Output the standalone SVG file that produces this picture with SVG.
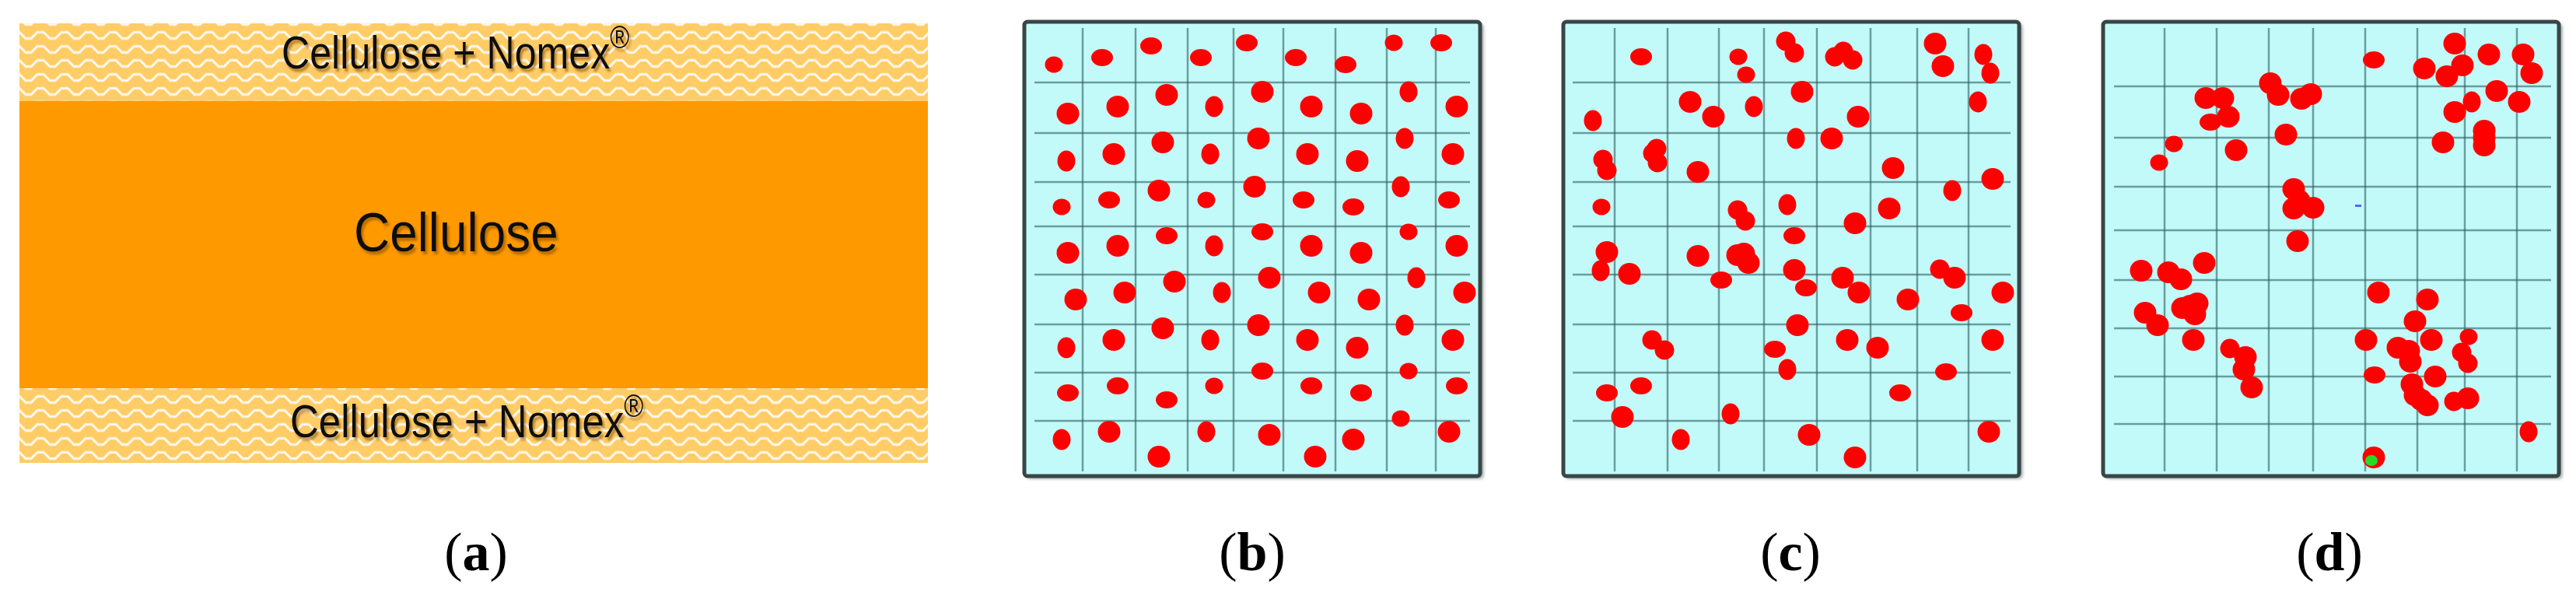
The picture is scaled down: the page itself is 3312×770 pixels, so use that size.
<svg xmlns="http://www.w3.org/2000/svg" xmlns:xlink="http://www.w3.org/1999/xlink" width="3312" height="770" viewBox="0 0 3312 770">
<style>
.band{fill:url(#wave)}
.lbl{font-family:"Liberation Sans",Arial,sans-serif;fill:#111;filter:url(#tshadow)}
.cap{font-family:"Liberation Serif","Times New Roman",serif;font-size:70px;fill:#000;text-anchor:middle}
.frame{fill:#C2FAFA;stroke:#3a4646;stroke-width:5}
.fshadow{fill:#8a9494;filter:url(#blur)}
.grid line{stroke:#2f5f5f;stroke-width:2.5;stroke-opacity:0.6}
</style>
<defs>
<pattern id="wave" patternUnits="userSpaceOnUse" x="25" y="19.5" width="31" height="18">
<rect width="31" height="18" fill="#FFCC66"/>
<path d="M-1,4 L0,4 L8,12 L15,12 L23,4 L32,4" fill="none" stroke="#ffffff" stroke-width="3" stroke-opacity="0.9"/>
</pattern>
<filter id="tshadow" x="-5%" y="-20%" width="110%" height="150%">
<feDropShadow dx="3" dy="4" stdDeviation="1.5" flood-color="#7a4a00" flood-opacity="0.55"/>
</filter>
<filter id="blur"><feGaussianBlur stdDeviation="2"/></filter>
<ellipse id="B" rx="14.5" ry="14" fill="#FF0000"/>
<ellipse id="M" rx="12.5" ry="12.5" fill="#FF0000"/>
<ellipse id="E" rx="14" ry="11" fill="#FF0000"/>
<ellipse id="S" rx="11.5" ry="10.5" fill="#FF0000"/>
<ellipse id="V" rx="11.5" ry="13.5" fill="#FF0000"/>
</defs>

<g id="panel-a">
<rect class="band" x="25" y="30" width="1168" height="100"/>
<rect x="25" y="130" width="1168" height="369" fill="#FF9900"/>
<rect class="band" x="25" y="499" width="1168" height="96"/>
<text class="lbl" font-size="59" transform="translate(362,88) scale(0.85,1)">Cellulose + Nomex<tspan font-size="40" dy="-26">®</tspan></text>
<text class="lbl" font-size="71" transform="translate(455,323) scale(0.9,1)">Cellulose</text>
<text class="lbl" font-size="60" transform="translate(373,562) scale(0.85,1)">Cellulose + Nomex<tspan font-size="40" dy="-26">®</tspan></text>
<text class="cap" x="612" y="733">(<tspan font-weight="bold">a</tspan>)</text>
</g>

<g id="panel-b">
<rect class="fshadow" x="1320" y="31" width="587" height="584" rx="4"/>
<rect class="frame" x="1317" y="28" width="586" height="584" rx="4"/>
<g class="grid">
<line x1="1392" y1="36" x2="1392" y2="606"/><line x1="1460" y1="36" x2="1460" y2="606"/><line x1="1527" y1="36" x2="1527" y2="606"/><line x1="1586" y1="36" x2="1586" y2="606"/><line x1="1650" y1="36" x2="1650" y2="606"/><line x1="1717" y1="36" x2="1717" y2="606"/><line x1="1783" y1="36" x2="1783" y2="606"/><line x1="1846" y1="36" x2="1846" y2="606"/>
<line x1="1330" y1="106" x2="1890" y2="106"/><line x1="1330" y1="171" x2="1890" y2="171"/><line x1="1330" y1="234" x2="1890" y2="234"/><line x1="1330" y1="291" x2="1890" y2="291"/><line x1="1330" y1="353" x2="1890" y2="353"/><line x1="1330" y1="417" x2="1890" y2="417"/><line x1="1330" y1="479" x2="1890" y2="479"/><line x1="1330" y1="541" x2="1890" y2="541"/>
</g>
<g id="dots-b">
<use href="#S" x="1355" y="83"/><use href="#E" x="1417" y="74"/><use href="#E" x="1480" y="59"/><use href="#E" x="1544" y="74"/><use href="#E" x="1603" y="55"/><use href="#E" x="1666" y="74"/><use href="#E" x="1730" y="83"/><use href="#S" x="1792" y="55"/><use href="#E" x="1853" y="55"/>
<use href="#B" x="1373" y="146"/><use href="#B" x="1437" y="137"/><use href="#B" x="1500" y="122"/><use href="#V" x="1561" y="137"/><use href="#B" x="1623" y="118"/><use href="#B" x="1686" y="137"/><use href="#B" x="1750" y="146"/><use href="#V" x="1811" y="118"/><use href="#B" x="1873" y="137"/>
<use href="#V" x="1371" y="207"/><use href="#B" x="1432" y="198"/><use href="#B" x="1495" y="183"/><use href="#V" x="1556" y="198"/><use href="#B" x="1618" y="178"/><use href="#B" x="1681" y="198"/><use href="#B" x="1745" y="207"/><use href="#V" x="1806" y="178"/><use href="#B" x="1868" y="198"/>
<use href="#S" x="1365" y="266"/><use href="#E" x="1426" y="257"/><use href="#B" x="1490" y="245"/><use href="#S" x="1551" y="257"/><use href="#B" x="1613" y="240"/><use href="#E" x="1676" y="257"/><use href="#E" x="1740" y="266"/><use href="#V" x="1801" y="240"/><use href="#E" x="1863" y="257"/>
<use href="#B" x="1373" y="325"/><use href="#B" x="1437" y="316"/><use href="#E" x="1500" y="303"/><use href="#V" x="1561" y="316"/><use href="#E" x="1623" y="298"/><use href="#B" x="1686" y="316"/><use href="#B" x="1750" y="325"/><use href="#S" x="1811" y="298"/><use href="#B" x="1873" y="316"/>
<use href="#B" x="1383" y="385"/><use href="#B" x="1446" y="376"/><use href="#B" x="1510" y="362"/><use href="#V" x="1571" y="376"/><use href="#B" x="1632" y="357"/><use href="#B" x="1696" y="376"/><use href="#B" x="1760" y="385"/><use href="#V" x="1821" y="357"/><use href="#B" x="1883" y="376"/>
<use href="#V" x="1371" y="447"/><use href="#B" x="1432" y="437"/><use href="#B" x="1495" y="422"/><use href="#V" x="1556" y="437"/><use href="#B" x="1618" y="418"/><use href="#B" x="1681" y="437"/><use href="#B" x="1745" y="447"/><use href="#V" x="1806" y="418"/><use href="#B" x="1868" y="437"/>
<use href="#E" x="1373" y="505"/><use href="#E" x="1437" y="496"/><use href="#E" x="1500" y="514"/><use href="#S" x="1561" y="496"/><use href="#E" x="1623" y="477"/><use href="#E" x="1686" y="496"/><use href="#E" x="1750" y="505"/><use href="#S" x="1811" y="477"/><use href="#E" x="1873" y="496"/>
<use href="#V" x="1365" y="565"/><use href="#B" x="1426" y="555"/><use href="#B" x="1490" y="587"/><use href="#V" x="1551" y="555"/><use href="#B" x="1632" y="559"/><use href="#B" x="1691" y="587"/><use href="#B" x="1740" y="565"/><use href="#S" x="1801" y="538"/><use href="#B" x="1863" y="555"/>
</g>
<text class="cap" x="1610" y="733">(<tspan font-weight="bold">b</tspan>)</text>
</g>

<g id="panel-c">
<rect class="fshadow" x="2013" y="31" width="587" height="584" rx="4"/>
<rect class="frame" x="2010" y="28" width="586" height="584" rx="4"/>
<g class="grid">
<line x1="2076" y1="36" x2="2076" y2="606"/><line x1="2144" y1="36" x2="2144" y2="606"/><line x1="2210" y1="36" x2="2210" y2="606"/><line x1="2268" y1="36" x2="2268" y2="606"/><line x1="2336" y1="36" x2="2336" y2="606"/><line x1="2405" y1="36" x2="2405" y2="606"/><line x1="2465" y1="36" x2="2465" y2="606"/><line x1="2531" y1="36" x2="2531" y2="606"/>
<line x1="2022" y1="106" x2="2585" y2="106"/><line x1="2022" y1="171" x2="2585" y2="171"/><line x1="2022" y1="234" x2="2585" y2="234"/><line x1="2022" y1="291" x2="2585" y2="291"/><line x1="2022" y1="353" x2="2585" y2="353"/><line x1="2022" y1="417" x2="2585" y2="417"/><line x1="2022" y1="479" x2="2585" y2="479"/><line x1="2022" y1="541" x2="2585" y2="541"/>
</g>
<g id="dots-c">
<use href="#E" x="2110" y="73"/><use href="#S" x="2235" y="73"/><use href="#S" x="2245" y="96"/>
<use href="#M" x="2296" y="53"/><use href="#M" x="2307" y="68"/>
<use href="#M" x="2359" y="73"/><use href="#M" x="2370" y="66"/><use href="#M" x="2382" y="77"/>
<use href="#B" x="2488" y="56"/><use href="#B" x="2498" y="85"/>
<use href="#V" x="2550" y="70"/><use href="#V" x="2559" y="94"/>
<use href="#B" x="2317" y="118"/><use href="#B" x="2173" y="131"/><use href="#B" x="2203" y="150"/><use href="#V" x="2255" y="137"/><use href="#B" x="2389" y="150"/><use href="#V" x="2543" y="131"/>
<use href="#V" x="2048" y="155"/><use href="#V" x="2309" y="178"/><use href="#B" x="2355" y="178"/>
<use href="#M" x="2130" y="191"/><use href="#M" x="2125" y="197"/><use href="#M" x="2131" y="209"/>
<use href="#M" x="2061" y="205"/><use href="#M" x="2066" y="219"/>
<use href="#B" x="2183" y="221"/><use href="#B" x="2434" y="216"/><use href="#B" x="2562" y="230"/><use href="#V" x="2510" y="245"/>
<use href="#S" x="2059" y="266"/><use href="#M" x="2234" y="270"/><use href="#M" x="2244" y="284"/><use href="#V" x="2298" y="263"/>
<use href="#B" x="2429" y="268"/><use href="#B" x="2385" y="287"/><use href="#E" x="2307" y="303"/>
<use href="#B" x="2066" y="324"/><use href="#V" x="2058" y="348"/><use href="#B" x="2095" y="352"/><use href="#B" x="2183" y="329"/>
<use href="#B" x="2234" y="328"/><use href="#B" x="2242" y="326"/><use href="#B" x="2248" y="338"/>
<use href="#E" x="2213" y="360"/><use href="#B" x="2307" y="347"/><use href="#E" x="2322" y="370"/><use href="#B" x="2369" y="357"/><use href="#B" x="2390" y="376"/>
<use href="#M" x="2494" y="346"/><use href="#B" x="2513" y="357"/><use href="#B" x="2575" y="376"/><use href="#B" x="2453" y="385"/><use href="#E" x="2522" y="402"/>
<use href="#B" x="2311" y="418"/><use href="#M" x="2124" y="437"/><use href="#M" x="2140" y="450"/><use href="#E" x="2282" y="449"/>
<use href="#B" x="2375" y="437"/><use href="#B" x="2414" y="447"/><use href="#B" x="2562" y="437"/>
<use href="#V" x="2298" y="475"/><use href="#E" x="2502" y="478"/><use href="#E" x="2110" y="496"/><use href="#E" x="2066" y="505"/><use href="#E" x="2443" y="505"/>
<use href="#B" x="2086" y="536"/><use href="#V" x="2225" y="532"/><use href="#V" x="2161" y="565"/><use href="#B" x="2326" y="559"/><use href="#B" x="2557" y="555"/><use href="#B" x="2385" y="588"/>
</g>
<text class="cap" x="2302" y="733">(<tspan font-weight="bold">c</tspan>)</text>
</g>

<g id="panel-d">
<rect class="fshadow" x="2707" y="31" width="587" height="584" rx="4"/>
<rect class="frame" x="2704" y="28" width="586" height="584" rx="4"/>
<g class="grid">
<line x1="2783" y1="36" x2="2783" y2="606"/><line x1="2850" y1="36" x2="2850" y2="606"/><line x1="2917" y1="36" x2="2917" y2="606"/><line x1="2974" y1="36" x2="2974" y2="606"/><line x1="3041" y1="36" x2="3041" y2="606"/><line x1="3108" y1="36" x2="3108" y2="606"/><line x1="3169" y1="36" x2="3169" y2="606"/><line x1="3236" y1="36" x2="3236" y2="606"/>
<line x1="2718" y1="111" x2="3280" y2="111"/><line x1="2718" y1="177" x2="3280" y2="177"/><line x1="2718" y1="240" x2="3280" y2="240"/><line x1="2718" y1="296" x2="3280" y2="296"/><line x1="2718" y1="360" x2="3280" y2="360"/><line x1="2718" y1="422" x2="3280" y2="422"/><line x1="2718" y1="484" x2="3280" y2="484"/><line x1="2718" y1="545" x2="3280" y2="545"/>
</g>
<g id="dots-d">
<use href="#E" x="3052" y="77"/><use href="#B" x="3156" y="56"/><use href="#B" x="3117" y="88"/><use href="#B" x="3146" y="98"/><use href="#B" x="3166" y="84"/>
<use href="#B" x="3200" y="70"/><use href="#B" x="3244" y="70"/><use href="#B" x="3255" y="94"/><use href="#B" x="3210" y="117"/><use href="#B" x="3239" y="131"/>
<use href="#V" x="3178" y="131"/><use href="#B" x="3156" y="144"/><use href="#B" x="3141" y="183"/>
<use href="#B" x="3194" y="168"/><use href="#B" x="3194" y="177"/><use href="#B" x="3194" y="187"/>
<use href="#B" x="2919" y="107"/><use href="#B" x="2929" y="122"/><use href="#B" x="2959" y="127"/><use href="#B" x="2971" y="121"/>
<use href="#B" x="2836" y="126"/><use href="#B" x="2858" y="126"/><use href="#B" x="2865" y="150"/><use href="#E" x="2842" y="157"/>
<use href="#B" x="2939" y="173"/><use href="#B" x="2875" y="193"/><use href="#S" x="2795" y="185"/><use href="#S" x="2776" y="209"/>
<use href="#B" x="2949" y="243"/><use href="#B" x="2956" y="258"/><use href="#B" x="2949" y="268"/><use href="#B" x="2974" y="267"/><use href="#B" x="2954" y="310"/>
<use href="#B" x="2753" y="348"/><use href="#B" x="2788" y="350"/><use href="#B" x="2804" y="359"/><use href="#B" x="2834" y="338"/>
<use href="#B" x="2816" y="393"/><use href="#B" x="2822" y="404"/><use href="#B" x="2806" y="396"/><use href="#B" x="2825" y="390"/>
<use href="#B" x="2758" y="402"/><use href="#B" x="2774" y="418"/><use href="#B" x="2820" y="437"/>
<use href="#M" x="2867" y="448"/><use href="#B" x="2887" y="459"/><use href="#B" x="2885" y="475"/><use href="#B" x="2895" y="498"/>
<use href="#B" x="3058" y="376"/><use href="#B" x="3121" y="385"/><use href="#B" x="3105" y="413"/><use href="#B" x="3042" y="437"/>
<use href="#B" x="3083" y="447"/><use href="#B" x="3097" y="451"/><use href="#B" x="3099" y="465"/><use href="#B" x="3126" y="437"/>
<use href="#S" x="3174" y="433"/><use href="#M" x="3165" y="453"/><use href="#M" x="3173" y="467"/>
<use href="#E" x="3053" y="482"/><use href="#B" x="3131" y="484"/>
<use href="#B" x="3101" y="494"/><use href="#B" x="3105" y="508"/><use href="#B" x="3113" y="514"/><use href="#B" x="3121" y="521"/>
<use href="#M" x="3155" y="516"/><use href="#B" x="3173" y="512"/><use href="#V" x="3251" y="555"/>
<use href="#B" x="3052" y="588"/>
<ellipse cx="3049" cy="592" rx="8" ry="7" fill="#22dd22"/>
<rect x="3028" y="263" width="8" height="3" fill="#5566ff"/>
</g>
<text class="cap" x="2995" y="733">(<tspan font-weight="bold">d</tspan>)</text>
</g>
</svg>
